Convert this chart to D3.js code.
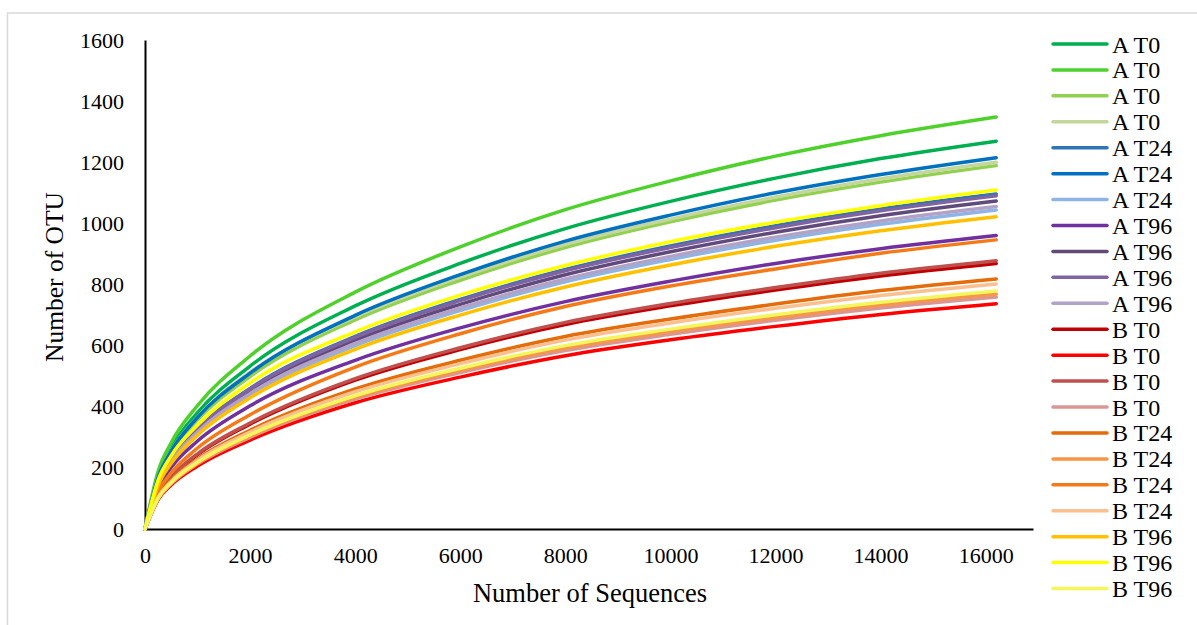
<!DOCTYPE html>
<html>
<head>
<meta charset="utf-8">
<script src="https://cdn.jsdelivr.net/npm/d3@7"></script>
<style>
  body { margin: 0; background: #fff; }
  svg text { font-family: "Liberation Serif", "DejaVu Serif", serif; fill: #000; }
</style>
</head>
<body>
<div id="chart"></div>
<script>

// number of sequences where the curves were read
var sequences = [0, 250, 500, 1000, 2000, 4000, 6000, 8000, 10000, 12000, 14000, 16200];

var seriesNames = ["A T0", "A T0", "A T0", "A T0", "A T24", "A T24", "A T24", "A T96", "A T96", "A T96", "A T96",
  "B T0", "B T0", "B T0", "B T0", "B T24", "B T24", "B T24", "B T24", "B T96", "B T96", "B T96"];

var seriesColors = ["#00B050", "#4FD12C", "#92D050", "#C3D69B", "#2E75B6", "#0070C0", "#8EB4E3", "#7030A0", "#604A7B", "#8064A2", "#B3A2C7",
  "#C00000", "#FF0000", "#C0504D", "#D99694", "#E46C0A", "#F79646", "#F57A17", "#FAC090", "#FFC000", "#FFFF00", "#F5F55C"];

// OTU counts, one array per series (same order as names)
var aT0_1 = [0, 178, 266, 381, 533, 730, 869, 983, 1072, 1148, 1212, 1269];
var aT0_2 = [0, 189, 283, 404, 566, 775, 923, 1045, 1139, 1220, 1287, 1348];
var aT0_3 = [0, 166, 250, 357, 499, 684, 814, 921, 1005, 1076, 1135, 1189];
var aT0_4 = [0, 170, 256, 366, 512, 694, 824, 931, 1014, 1086, 1146, 1200];
var aT24_1 = [0, 153, 230, 329, 460, 630, 751, 849, 926, 992, 1047, 1096];
var aT24_2 = [0, 170, 255, 365, 510, 699, 832, 942, 1027, 1100, 1160, 1215];
var aT24_3 = [0, 146, 219, 313, 438, 600, 715, 809, 882, 945, 997, 1044];
var aT96_1 = [0, 134, 202, 288, 403, 552, 658, 744, 811, 869, 917, 960];
var aT96_2 = [0, 150, 225, 322, 451, 617, 735, 832, 907, 971, 1025, 1073];
var aT96_3 = [0, 153, 229, 327, 458, 627, 747, 845, 921, 986, 1041, 1090];
var aT96_4 = [0, 148, 222, 317, 443, 607, 723, 818, 892, 955, 1008, 1055];
var bT0_1 = [0, 113, 169, 243, 343, 487, 587, 669, 730, 782, 828, 869];
var bT0_2 = [0, 96, 144, 206, 291, 413, 497, 567, 619, 663, 702, 737];
var bT0_3 = [0, 114, 171, 246, 347, 492, 593, 676, 738, 790, 837, 878];
var bT0_4 = [0, 99, 148, 213, 300, 425, 512, 584, 637, 683, 723, 759];
var bT24_1 = [0, 106, 160, 229, 323, 458, 552, 630, 687, 736, 780, 818];
var bT24_2 = [0, 100, 150, 215, 304, 431, 519, 592, 646, 692, 733, 769];
var bT24_3 = [0, 123, 184, 265, 374, 530, 639, 728, 795, 851, 902, 946];
var bT24_4 = [0, 104, 156, 225, 317, 449, 541, 618, 674, 722, 764, 802];
var bT96_1 = [0, 143, 215, 307, 429, 588, 700, 792, 864, 925, 976, 1022];
var bT96_2 = [0, 160, 240, 340, 478, 645, 765, 862, 940, 1004, 1058, 1109];
var bT96_3 = [0, 101, 152, 218, 308, 436, 526, 600, 654, 701, 742, 779];

var seriesValues = [aT0_1, aT0_2, aT0_3, aT0_4, aT24_1, aT24_2, aT24_3, aT96_1, aT96_2, aT96_3, aT96_4,
  bT0_1, bT0_2, bT0_3, bT0_4, bT24_1, bT24_2, bT24_3, bT24_4, bT96_1, bT96_2, bT96_3];

var xTicks = [0, 2000, 4000, 6000, 8000, 10000, 12000, 14000, 16000];
var yTicks = [0, 200, 400, 600, 800, 1000, 1200, 1400, 1600];

var serif = "'Liberation Serif', 'DejaVu Serif', serif";
var svgWidth = 1197;
var svgHeight = 625;
var plot = { left: 145, right: 1033, top: 40, bottom: 529 };

var x = d3.scaleLinear().domain([0, 16900]).range([plot.left, plot.right]);
var y = d3.scaleLinear().domain([0, 1600]).range([plot.bottom, plot.top]);

var svg = d3.select("#chart")
  .append("svg")
  .attr("width", svgWidth)
  .attr("height", svgHeight)
  .attr("font-family", serif);

// chart frame (only top and left edges are inside the picture)
svg.append("rect")
  .attr("x", 7.5)
  .attr("y", 13)
  .attr("width", 1400)
  .attr("height", 800)
  .attr("fill", "none")
  .attr("stroke", "#d9d9d9")
  .attr("stroke-width", 1.5);

// x axis
var xAxis = svg.append("g")
  .attr("transform", "translate(0," + plot.bottom + ")")
  .call(d3.axisBottom(x).tickValues(xTicks).tickSize(0).tickPadding(18).tickFormat(d3.format("d")));
xAxis.attr("font-family", serif).attr("font-size", 22);
xAxis.select(".domain").attr("stroke", "#000").attr("stroke-width", 2);

// y axis
var yAxis = svg.append("g")
  .attr("transform", "translate(" + plot.left + ",0)")
  .call(d3.axisLeft(y).tickValues(yTicks).tickSize(0).tickPadding(21).tickFormat(d3.format("d")));
yAxis.attr("font-family", serif).attr("font-size", 22);
yAxis.select(".domain").attr("stroke", "#000").attr("stroke-width", 2);

// axis titles
svg.append("text")
  .attr("x", 590)
  .attr("y", 602)
  .attr("text-anchor", "middle")
  .attr("font-size", 26.5)
  .text("Number of Sequences");

svg.append("text")
  .attr("transform", "translate(63,277) rotate(-90)")
  .attr("text-anchor", "middle")
  .attr("font-size", 25.5)
  .text("Number of OTU");

// curves
var line = d3.line()
  .curve(d3.curveMonotoneX)
  .x(function(d, i) { return x(sequences[i]); })
  .y(function(d) { return y(d); });

svg.append("g")
  .selectAll("path")
  .data(seriesValues)
  .enter()
  .append("path")
  .attr("d", line)
  .attr("fill", "none")
  .attr("stroke", function(d, i) { return seriesColors[i]; })
  .attr("stroke-width", 3.5)
  .attr("stroke-linecap", "round")
  .attr("stroke-linejoin", "round");

// legend
var legend = svg.append("g")
  .attr("transform", "translate(1053,44)");

var rows = legend.selectAll("g")
  .data(seriesNames)
  .enter()
  .append("g")
  .attr("transform", function(d, i) { return "translate(0," + (i * 25.93) + ")"; });

rows.append("line")
  .attr("x1", 0)
  .attr("x2", 54)
  .attr("stroke", function(d, i) { return seriesColors[i]; })
  .attr("stroke-width", 3.5)
  .attr("stroke-linecap", "round");

rows.append("text")
  .attr("x", 59)
  .attr("y", 8.5)
  .attr("font-size", 24)
  .text(function(d) { return d; });

</script>
</body>
</html>
